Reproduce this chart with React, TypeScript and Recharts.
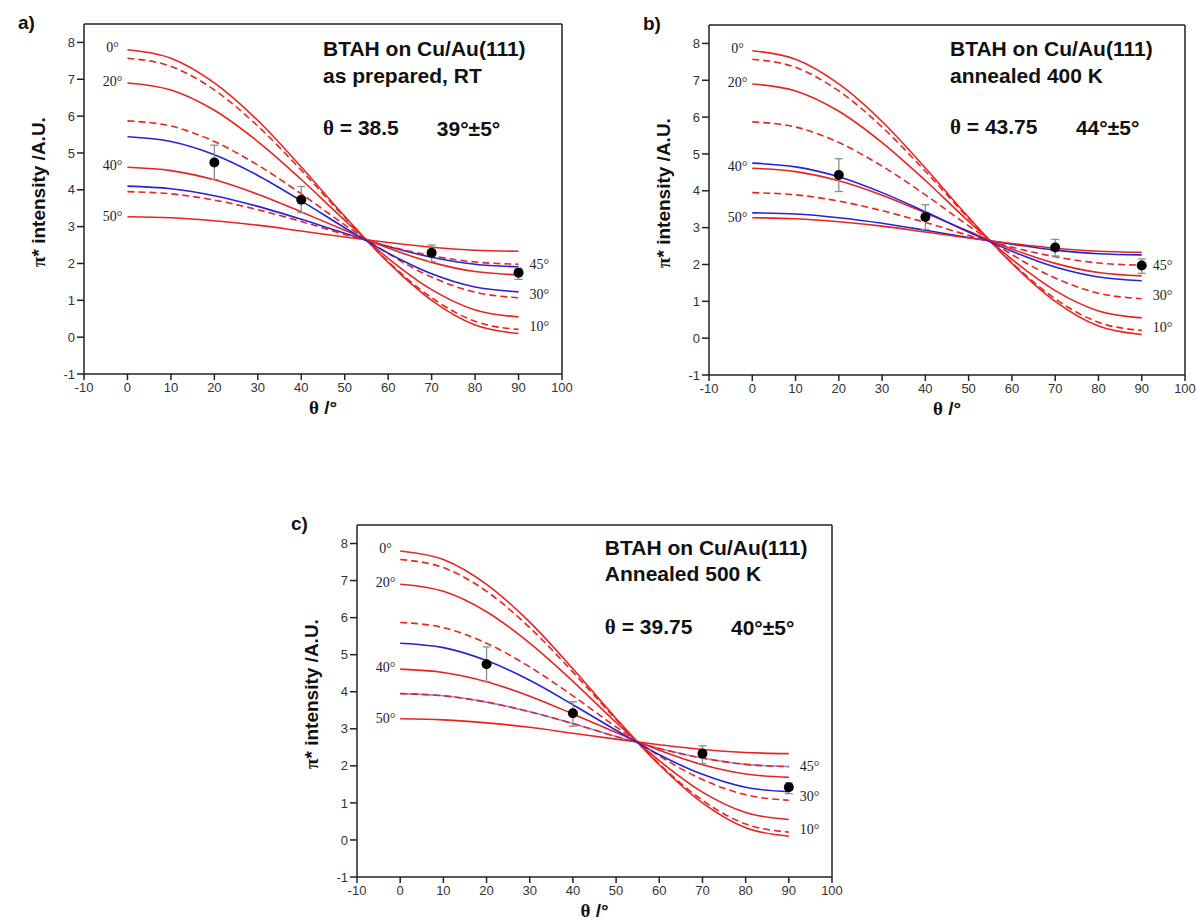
import React from "react";
import { ComposedChart, Line, Scatter, ErrorBar, XAxis, YAxis } from "recharts";

const SANS = "'Liberation Sans', Arial, sans-serif";
const SERIF = "'Liberation Serif', 'Times New Roman', serif";
const RED = "#e82420";
const BLUE = "#2424d6";

// polar angle of the x-ray beam
const theta = [0, 10, 20, 30, 40, 50, 60, 70, 80, 90];

// calculated pi* intensity for different tilt angles
const ref0 = [7.8, 7.57, 6.9, 5.88, 4.62, 3.28, 2.03, 1.0, 0.33, 0.1];
const ref10 = [7.57, 7.35, 6.71, 5.73, 4.53, 3.25, 2.05, 1.07, 0.43, 0.21];
const ref20 = [6.9, 6.71, 6.16, 5.31, 4.28, 3.17, 2.14, 1.29, 0.74, 0.55];
const ref30 = [5.87, 5.73, 5.31, 4.67, 3.89, 3.05, 2.27, 1.63, 1.22, 1.07];
const ref40 = [4.61, 4.52, 4.27, 3.88, 3.4, 2.9, 2.42, 2.03, 1.78, 1.69];
const ref45 = [3.95, 3.89, 3.72, 3.46, 3.14, 2.79, 2.47, 2.21, 2.04, 1.98];
const ref50 = [3.27, 3.24, 3.16, 3.04, 2.88, 2.72, 2.57, 2.44, 2.36, 2.33];

// fitted curves (blue)
const fitA1 = [5.44, 5.31, 4.95, 4.39, 3.7, 2.97, 2.28, 1.72, 1.36, 1.23];
const fitA2 = [4.1, 4.03, 3.84, 3.55, 3.2, 2.82, 2.46, 2.17, 1.98, 1.91];
const fitB1 = [4.75, 4.65, 4.38, 3.95, 3.43, 2.88, 2.36, 1.93, 1.66, 1.56];
const fitB2 = [3.4, 3.37, 3.27, 3.12, 2.93, 2.73, 2.55, 2.39, 2.29, 2.26];
const fitC1 = [5.31, 5.19, 4.84, 4.31, 3.65, 2.96, 2.3, 1.77, 1.42, 1.3];
const fitC2 = [3.95, 3.89, 3.72, 3.46, 3.14, 2.79, 2.47, 2.21, 2.04, 1.98];

// measured points
const measTheta = [20, 40, 70, 90];
const measA = [4.74, 3.73, 2.29, 1.75];
const errLoA = [0.46, 0.35, 0.24, 0.18];
const errHiA = [0.47, 0.36, 0.21, 0.12];
const measB = [4.43, 3.29, 2.46, 1.97];
const errLoB = [0.45, 0.34, 0.23, 0.21];
const errHiB = [0.44, 0.33, 0.22, 0.18];
const measC = [4.74, 3.42, 2.33, 1.42];
const errLoC = [0.47, 0.35, 0.27, 0.17];
const errHiC = [0.47, 0.31, 0.21, 0.12];

const xTicks = [-10, 0, 10, 20, 30, 40, 50, 60, 70, 80, 90, 100];
const xMinor = [-5, 5, 15, 25, 35, 45, 55, 65, 75, 85, 95];
const yTicks = [-1, 0, 1, 2, 3, 4, 5, 6, 7, 8];
const yMinor = [-0.5, 0.5, 1.5, 2.5, 3.5, 4.5, 5.5, 6.5, 7.5];

const leftLabels = ["0°", "20°", "40°", "50°"];
const leftLabelY = [7.85, 6.93, 4.65, 3.27];
const rightLabels = ["45°", "30°", "10°"];
const rightLabelY = [1.97, 1.15, 0.28];

type Box = { l: number; t: number; w: number; h: number };

function T(props: {
  x: number;
  y: number;
  children: React.ReactNode;
  size: number;
  anchor?: "start" | "middle";
  bold?: boolean;
  family?: string;
  rotate?: boolean;
  color?: string;
}) {
  const tx = props.anchor === "start" ? "0" : "-50%";
  return (
    <div
      style={{
        position: "absolute",
        left: props.x,
        top: props.y,
        transform: `translate(${tx}, -50%)${props.rotate ? " rotate(-90deg)" : ""}`,
        fontSize: props.size,
        fontWeight: props.bold ? 700 : 400,
        fontFamily: props.family ?? SANS,
        color: props.color ?? "#111",
        whiteSpace: "nowrap",
        lineHeight: 1,
      }}
    >
      {props.children}
    </div>
  );
}

function Panel(props: {
  box: Box;
  letter: string;
  fit1: number[];
  fit2: number[];
  fit2Color: string;
  meas: number[];
  errLo: number[];
  errHi: number[];
  lines: string[];
  fitText: string;
  angleText: string;
  textX: number;
  angleX: number;
  textY: number[];
}) {
  const { l, t, w, h } = props.box;
  // outer space around the plot; the 1px axes eat into it
  const ML = 70, MT = 10, MR = 20, MB = 40;
  const px = (x: number) => l + ((x + 10) / 110) * w;
  const py = (y: number) => t + ((8.5 - y) / 9.5) * h;

  const rows = theta.map((v, i) => ({
    t: v,
    r0: ref0[i],
    r10: ref10[i],
    r20: ref20[i],
    r30: ref30[i],
    r40: ref40[i],
    r45: ref45[i],
    r50: ref50[i],
    f1: props.fit1[i],
    f2: props.fit2[i],
  }));
  const pts = measTheta.map((v, i) => ({
    t: v,
    v: props.meas[i],
    err: [props.errLo[i], props.errHi[i]],
  }));

  const axisStyle = { stroke: "#222", strokeWidth: 1.5 };
  const tickStyle = { fill: "#333", fontSize: 13, fontFamily: SANS };
  const ln = (key: string, color: string, dashed = false) => (
    <Line
      key={key}
      xAxisId="main"
      yAxisId="main"
      dataKey={key}
      type="monotone"
      stroke={color}
      strokeWidth={1.6}
      strokeDasharray={dashed ? "7 4" : undefined}
      dot={false}
      activeDot={false}
      isAnimationActive={false}
    />
  );

  return (
    <>
      <div style={{ position: "absolute", left: l - ML, top: t - MT }}>
        <ComposedChart
          width={w + ML + MR}
          height={h + MT + MB}
          data={rows}
          margin={{ left: ML - 2, top: MT - 1, right: MR - 1, bottom: MB - 2 }}
        >
          <XAxis
            xAxisId="main"
            dataKey="t"
            type="number"
            domain={[-10, 100]}
            ticks={xTicks}
            tickSize={6}
            tickMargin={3}
            tickLine={axisStyle}
            axisLine={axisStyle}
            tick={tickStyle}
            height={1}
            interval={0}
            allowDataOverflow
          />
          <XAxis
            xAxisId="minor"
            type="number"
            domain={[-10, 100]}
            ticks={xMinor}
            tick={false}
            tickSize={3}
            tickLine={axisStyle}
            axisLine={false}
            height={1}
            interval={0}
            allowDataOverflow
          />
          <XAxis
            xAxisId="top"
            orientation="top"
            type="number"
            domain={[-10, 100]}
            tick={false}
            tickLine={false}
            axisLine={axisStyle}
            height={1}
          />
          <YAxis
            yAxisId="main"
            type="number"
            domain={[-1, 8.5]}
            ticks={yTicks}
            tickSize={7}
            tickMargin={2}
            tickLine={axisStyle}
            axisLine={axisStyle}
            tick={tickStyle}
            width={1}
            interval={0}
            allowDataOverflow
          />
          <YAxis
            yAxisId="minor"
            type="number"
            domain={[-1, 8.5]}
            ticks={yMinor}
            tick={false}
            tickSize={3}
            tickLine={axisStyle}
            axisLine={false}
            width={1}
            interval={0}
            allowDataOverflow
          />
          <YAxis
            yAxisId="right"
            orientation="right"
            type="number"
            domain={[-1, 8.5]}
            tick={false}
            tickLine={false}
            axisLine={axisStyle}
            width={1}
          />
          <Line
            xAxisId="main"
            yAxisId="main"
            dataKey="f2"
            type="monotone"
            stroke={props.fit2Color}
            strokeWidth={1.6}
            dot={false}
            activeDot={false}
            isAnimationActive={false}
          />
          {ln("r0", RED)}
          {ln("r10", RED, true)}
          {ln("r20", RED)}
          {ln("r30", RED, true)}
          {ln("r40", RED)}
          {ln("r45", RED, true)}
          {ln("r50", RED)}
          {ln("f1", BLUE)}
          <Scatter
            xAxisId="main"
            yAxisId="main"
            data={pts}
            dataKey="v"
            isAnimationActive={false}
            shape={(p: any) => <circle cx={p.cx} cy={p.cy} r={5} fill="#000" />}
          >
            <ErrorBar dataKey="err" direction="y" width={4} stroke="#8c8c8c" strokeWidth={1.3} />
          </Scatter>
        </ComposedChart>
      </div>

      <T x={l - 66} y={t - 2} size={19} bold anchor="start">
        {props.letter}
      </T>
      <T x={l - 46} y={t + h * 0.48} size={19} bold rotate>
        <span style={{ fontFamily: SERIF }}>π</span>* intensity /A.U.
      </T>
      <T x={l + w / 2} y={t + h + 33} size={19} bold>
        <span style={{ fontFamily: SERIF }}>θ</span> /°
      </T>

      {leftLabels.map((s, i) => (
        <T key={s} x={px(-3.4)} y={py(leftLabelY[i])} size={14} family={SERIF} color="#222">
          {s}
        </T>
      ))}
      {rightLabels.map((s, i) => (
        <T key={s} x={px(94.8)} y={py(rightLabelY[i])} size={14} family={SERIF} color="#222">
          {s}
        </T>
      ))}

      {props.lines.map((s, i) => (
        <T key={s} x={px(props.textX)} y={py(props.textY[i])} size={21} bold anchor="start">
          {s}
        </T>
      ))}
      <T x={px(props.textX)} y={py(props.textY[2])} size={21} bold anchor="start">
        <span style={{ fontFamily: SERIF }}>θ</span> {props.fitText}
      </T>
      <T x={px(props.angleX)} y={py(props.textY[2])} size={21} bold anchor="start">
        {props.angleText}
      </T>
    </>
  );
}

export default function App() {
  return (
    <div
      style={{
        position: "absolute",
        left: 0,
        top: 0,
        width: 1197,
        height: 921,
        background: "#fff",
        overflow: "hidden",
      }}
    >
      <Panel
        box={{ l: 84, t: 24, w: 478, h: 350 }}
        letter="a)"
        fit1={fitA1}
        fit2={fitA2}
        fit2Color={BLUE}
        meas={measA}
        errLo={errLoA}
        errHi={errHiA}
        lines={["BTAH on Cu/Au(111)", "as prepared, RT"]}
        fitText="= 38.5"
        angleText="39°±5°"
        textX={45}
        angleX={71.2}
        textY={[7.85, 7.12, 5.68]}
      />
      <Panel
        box={{ l: 709, t: 25, w: 476, h: 350 }}
        letter="b)"
        fit1={fitB1}
        fit2={fitB2}
        fit2Color={BLUE}
        meas={measB}
        errLo={errLoB}
        errHi={errHiB}
        lines={["BTAH on Cu/Au(111)", "annealed 400 K"]}
        fitText="= 43.75"
        angleText="44°±5°"
        textX={45.7}
        angleX={74.8}
        textY={[7.87, 7.15, 5.72]}
      />
      <Panel
        box={{ l: 357, t: 525, w: 475, h: 352 }}
        letter="c)"
        fit1={fitC1}
        fit2={fitC2}
        fit2Color="#8c8cf0"
        meas={measC}
        errLo={errLoC}
        errHi={errHiC}
        lines={["BTAH on Cu/Au(111)", "Annealed 500 K"]}
        fitText="= 39.75"
        angleText="40°±5°"
        textX={47.4}
        angleX={76.6}
        textY={[7.91, 7.21, 5.75]}
      />
    </div>
  );
}
